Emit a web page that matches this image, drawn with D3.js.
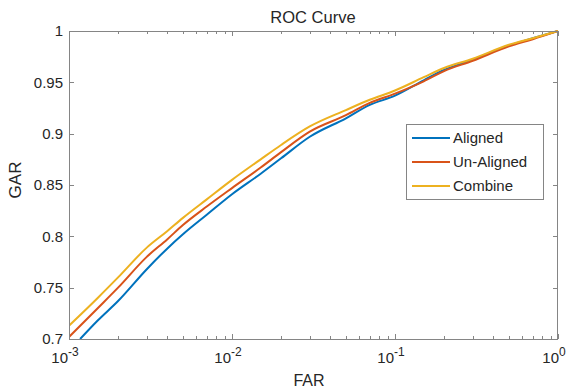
<!DOCTYPE html>
<html>
<head>
<meta charset="utf-8">
<script src="https://cdn.jsdelivr.net/npm/d3@7"></script>
<style>
  body { margin: 0; background: #fff; }
  text { font-family: "Liberation Sans", Arial, Helvetica, sans-serif; fill: #262626; }
</style>
</head>
<body>
<svg width="572" height="389"></svg>
<script>
// data
var farAligned = [0.00117, 0.0015, 0.002, 0.003, 0.004, 0.005, 0.007, 0.01, 0.015, 0.02, 0.03, 0.05, 0.07, 0.1, 0.15, 0.2, 0.3, 0.5, 0.7, 1];
var garAligned = [0.700, 0.718, 0.737, 0.768, 0.788, 0.802, 0.821, 0.841, 0.861, 0.876, 0.897, 0.915, 0.928, 0.937, 0.952, 0.962, 0.972, 0.986, 0.993, 1];

var farOther = [0.001, 0.0015, 0.002, 0.003, 0.004, 0.005, 0.007, 0.01, 0.015, 0.02, 0.03, 0.05, 0.07, 0.1, 0.15, 0.2, 0.3, 0.5, 0.7, 1];
var garUnaligned = [0.702, 0.730, 0.750, 0.780, 0.797, 0.811, 0.829, 0.847, 0.867, 0.882, 0.902, 0.918, 0.930, 0.939, 0.951, 0.961, 0.971, 0.985, 0.992, 1];
var garCombine = [0.713, 0.740, 0.760, 0.789, 0.805, 0.818, 0.836, 0.855, 0.875, 0.889, 0.907, 0.923, 0.933, 0.942, 0.955, 0.964, 0.973, 0.9866, 0.993, 1];

var seriesNames = ["Aligned", "Un-Aligned", "Combine"];
var seriesColors = ["#0072BD", "#D95319", "#EDB120"];
var yTicks = [0.7, 0.75, 0.8, 0.85, 0.9, 0.95, 1];
var xTicks = [1e-3, 1e-2, 1e-1, 1];
var xTickExp = ["-3", "-2", "-1", "0"];

var svg = d3.select("svg");
var pLeft = 69, pRight = 558, pTop = 31, pBottom = 339;

var x = d3.scaleLog().domain([1e-3, 1]).range([pLeft, pRight]);
var y = d3.scaleLinear().domain([0.7, 1]).range([pBottom, pTop]);

var axisCol = "#858585";

svg.append("clipPath").attr("id", "clip")
  .append("rect").attr("x", pLeft).attr("y", pTop - 2)
  .attr("width", pRight - pLeft).attr("height", pBottom - pTop + 2);

// minor log ticks
var minor = [];
for (var e = -3; e < 0; e++) {
  for (var m = 2; m < 10; m++) minor.push(m * Math.pow(10, e));
}

var ticks = svg.append("g").attr("stroke", axisCol).attr("stroke-width", 1);
minor.forEach(function (v) {
  var px = Math.round(x(v)) + 0.5;
  ticks.append("line").attr("x1", px).attr("x2", px).attr("y1", pBottom).attr("y2", pBottom - 3);
  ticks.append("line").attr("x1", px).attr("x2", px).attr("y1", pTop).attr("y2", pTop + 3);
});
xTicks.forEach(function (v) {
  var px = Math.round(x(v)) + 0.5;
  ticks.append("line").attr("x1", px).attr("x2", px).attr("y1", pBottom).attr("y2", pBottom - 5);
  ticks.append("line").attr("x1", px).attr("x2", px).attr("y1", pTop).attr("y2", pTop + 5);
});
yTicks.forEach(function (v) {
  var py = Math.round(y(v)) + 0.5;
  ticks.append("line").attr("x1", pLeft).attr("x2", pLeft + 5).attr("y1", py).attr("y2", py);
  ticks.append("line").attr("x1", pRight).attr("x2", pRight - 5).attr("y1", py).attr("y2", py);
});

// curves
var line = d3.line()
  .x(function (d) { return x(d[0]); })
  .y(function (d) { return y(d[1]); })
  .curve(d3.curveMonotoneX);
var curves = [d3.zip(farAligned, garAligned), d3.zip(farOther, garUnaligned), d3.zip(farOther, garCombine)];

svg.append("g").attr("clip-path", "url(#clip)")
  .selectAll("path").data(curves).enter().append("path")
  .attr("d", line)
  .attr("fill", "none")
  .attr("stroke", function (d, i) { return seriesColors[i]; })
  .attr("stroke-width", 2)
  .attr("stroke-linejoin", "round");

// axes box
svg.append("rect")
  .attr("x", pLeft + 0.5).attr("y", pTop + 0.5)
  .attr("width", pRight - pLeft - 1).attr("height", pBottom - pTop)
  .attr("fill", "none").attr("stroke", axisCol).attr("stroke-width", 1);

// tick labels
svg.selectAll(".ylab").data(yTicks).enter().append("text")
  .attr("class", "ylab")
  .attr("x", pLeft - 6).attr("y", function (d) { return y(d); })
  .attr("dy", "0.36em")
  .attr("text-anchor", "end")
  .style("font-size", "15px")
  .text(function (d) { return d3.format("")(d); });

var xl = svg.selectAll(".xlab").data(xTicks).enter().append("text")
  .attr("class", "xlab")
  .attr("x", function (d) { return x(d) - 4; })
  .attr("y", pBottom + 24)
  .attr("text-anchor", "middle")
  .style("font-size", "15px");
xl.append("tspan").text("10");
xl.append("tspan").attr("dy", -7).style("font-size", "12px").text(function (d, i) { return xTickExp[i]; });

// title and axis labels
svg.append("text").attr("x", 313).attr("y", 23).attr("text-anchor", "middle")
  .style("font-size", "16.5px").text("ROC Curve");
svg.append("text").attr("x", 309).attr("y", 386).attr("text-anchor", "middle")
  .style("font-size", "16px").text("FAR");
svg.append("text").attr("transform", "translate(21,180) rotate(-90)").attr("text-anchor", "middle")
  .style("font-size", "17px").text("GAR");

// legend
var lg = svg.append("g");
lg.append("rect").attr("x", 406.5).attr("y", 124.5).attr("width", 137).attr("height", 75)
  .attr("fill", "#fff").attr("stroke", axisCol).attr("stroke-width", 1);
seriesNames.forEach(function (name, i) {
  var ly = 138 + i * 24;
  lg.append("line").attr("x1", 412).attr("x2", 450).attr("y1", ly).attr("y2", ly)
    .attr("stroke", seriesColors[i]).attr("stroke-width", 2);
  lg.append("text").attr("x", 453).attr("y", ly + 5).style("font-size", "15px").text(name);
});
</script>
</body>
</html>
